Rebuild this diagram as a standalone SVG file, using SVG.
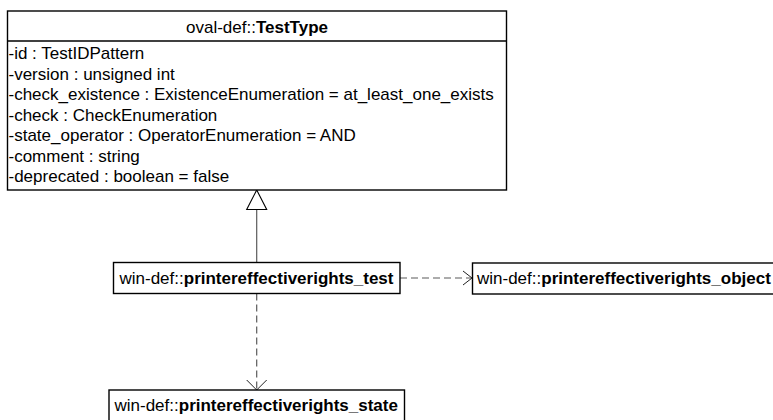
<svg xmlns="http://www.w3.org/2000/svg" width="773" height="420" viewBox="0 0 773 420">
<style>
  text { font-family: "Liberation Sans", Arial, sans-serif; font-size: 17px; fill: #000; }
  .b { font-weight: bold; }
  .box { fill: #fff; stroke: #000; stroke-width: 1.4; }
  .conn { fill: none; stroke: #5a5a5a; stroke-width: 1.2; }
  .dash { stroke-dasharray: 7 4; }
  .head { fill: none; stroke: #222; stroke-width: 1; }
</style>
<rect width="773" height="420" fill="#fff"/>
<g id="connectors">
  <line class="conn" x1="256.7" y1="209.5" x2="256.7" y2="262.5"/>
  <polygon points="256.7,190 246.7,209.5 266.7,209.5" fill="#fff" stroke="#000" stroke-width="1.1"/>
  <line class="conn dash" x1="400" y1="278" x2="471" y2="278"/>
  <polyline class="head" points="463,271 472,278 463,285"/>
  <line class="conn dash" x1="256.7" y1="293.5" x2="256.7" y2="389"/>
  <polyline class="head" points="246.7,380 256.7,390 266.7,380"/>
</g>
<g id="TestType">
  <rect class="box" x="7.5" y="11" width="499" height="179"/>
  <line x1="7.5" y1="41" x2="506.5" y2="41" stroke="#000" stroke-width="1.4"/>
  <text x="257" y="32.5" text-anchor="middle">oval-def::<tspan class="b">TestType</tspan></text>
  <text x="8.5" y="59">-id : TestIDPattern</text>
  <text x="8.5" y="79.5">-version : unsigned int</text>
  <text x="8.5" y="100">-check_existence : ExistenceEnumeration = at_least_one_exists</text>
  <text x="8.5" y="120.5">-check : CheckEnumeration</text>
  <text x="8.5" y="141">-state_operator : OperatorEnumeration = AND</text>
  <text x="8.5" y="161.5">-comment : string</text>
  <text x="8.5" y="182">-deprecated : boolean = false</text>
</g>
<g id="printereffectiverights_test">
  <rect class="box" x="113.5" y="262.5" width="286.5" height="31"/>
  <text x="119.5" y="283.5">win-def::<tspan class="b">printereffectiverights_test</tspan></text>
</g>
<g id="printereffectiverights_object">
  <rect class="box" x="472.5" y="263" width="310" height="31"/>
  <text x="477" y="284">win-def::<tspan class="b">printereffectiverights_object</tspan></text>
</g>
<g id="printereffectiverights_state">
  <rect class="box" x="109" y="390" width="295.5" height="32"/>
  <text x="114.5" y="410.5">win-def::<tspan class="b">printereffectiverights_state</tspan></text>
</g>
</svg>
